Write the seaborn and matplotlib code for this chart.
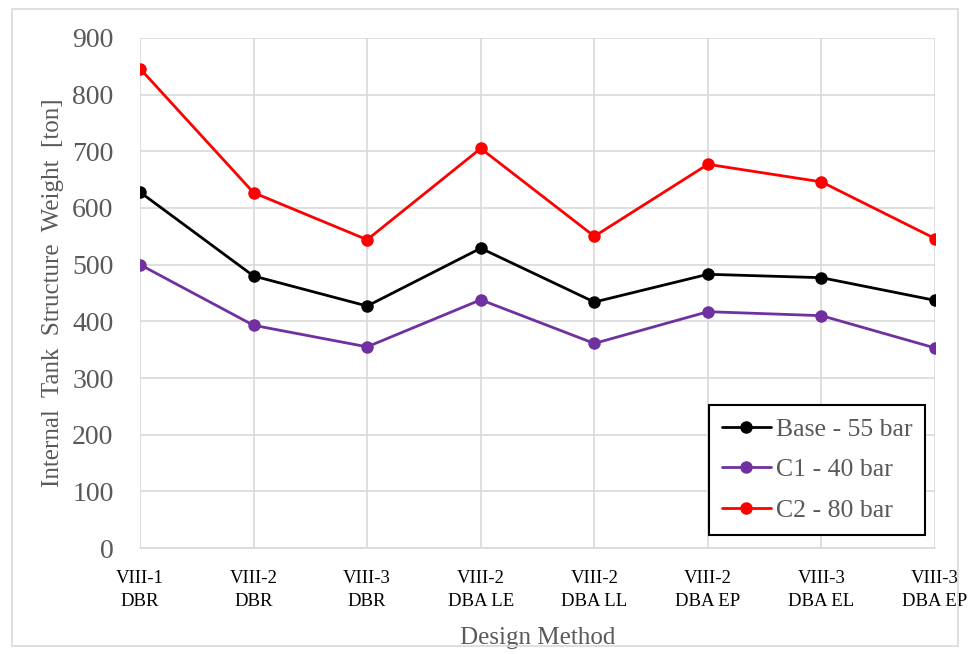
import matplotlib
matplotlib.use("Agg")
import matplotlib.pyplot as plt
import seaborn as sns
import pandas as pd
import numpy as np

categories = ["VIII-1\nDBR", "VIII-2\nDBR", "VIII-3\nDBR", "VIII-2\nDBA LE",
              "VIII-2\nDBA LL", "VIII-2\nDBA EP", "VIII-3\nDBA EL", "VIII-3\nDBA EP"]
base_55 = [628, 480, 427, 529, 434, 483, 477, 437]
c1_40 = [500, 393, 355, 438, 361, 417, 410, 353]
c2_80 = [846, 627, 544, 705, 550, 677, 646, 546]
series_names = ["Base - 55 bar", "C1 - 40 bar", "C2 - 80 bar"]
colors = ["#000000", "#7030A0", "#FF0000"]
y_ticks = list(range(0, 1000, 100))

rows = []
for name, vals in zip(series_names, [base_55, c1_40, c2_80]):
    for i, v in enumerate(vals):
        rows.append({"idx": i, "value": v, "series": name})
df = pd.DataFrame(rows)

sns.set_style("white")
plt.rcParams["font.family"] = ["Liberation Serif", "DejaVu Serif"]
text_color = "#595959"

fig = plt.figure(figsize=(9.7, 6.54), dpi=100)
ax = fig.add_axes([0.1443, 0.162, 0.8197, 0.780])

sns.lineplot(data=df, x="idx", y="value", hue="series", palette=colors,
             hue_order=series_names, marker="o", markersize=9, linewidth=2.0,
             markeredgewidth=0, ax=ax, sort=False)

ax.set_xlim(0, len(categories) - 1)
ax.set_ylim(0, 900)
ax.set_yticks(y_ticks)
ax.set_xticks(range(len(categories)))
ax.set_xticklabels(categories, fontsize=13.5, color="black", linespacing=1.45)
ax.tick_params(axis="y", labelsize=20, labelcolor=text_color, length=0, pad=19)
ax.tick_params(axis="x", length=0, pad=16)
ax.grid(True, color="#D9D9D9", linewidth=1.2)
ax.set_axisbelow(True)
for s in ["top", "right", "left"]:
    ax.spines[s].set_visible(False)
ax.spines["bottom"].set_color("#D9D9D9")
ax.spines["bottom"].set_linewidth(1.2)

ax.set_xlabel("Design Method", fontsize=18, color=text_color, labelpad=12)
ax.set_ylabel("Internal  Tank  Structure  Weight  [ton]", fontsize=18, color=text_color, labelpad=6)

leg = ax.legend(loc="lower right", bbox_to_anchor=(0.9875, 0.025), borderaxespad=0,
                fontsize=18.5, frameon=True, fancybox=False, framealpha=1, edgecolor="black",
                handlelength=1.9, handletextpad=0.2, borderpad=0.5, labelspacing=0.7)
leg.get_frame().set_linewidth(1.5)
for t in leg.get_texts():
    t.set_color(text_color)

border = plt.Rectangle((0.012, 0.012), 0.976, 0.975, transform=fig.transFigure,
                       fill=False, edgecolor="#D9D9D9", linewidth=1.2)
fig.add_artist(border)

fig.savefig("out.png", dpi=100)
